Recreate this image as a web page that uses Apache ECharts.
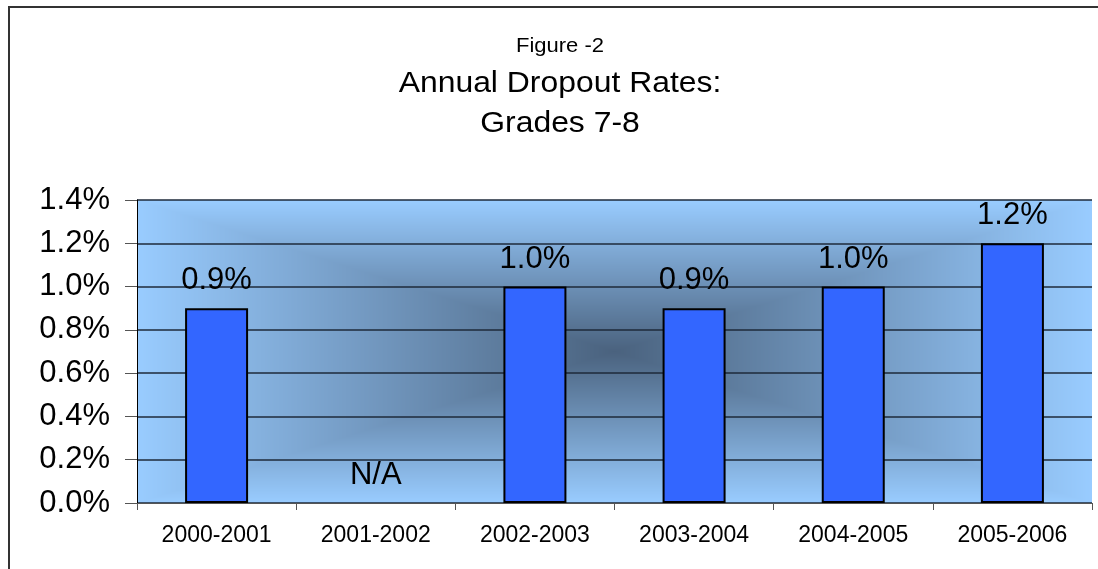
<!DOCTYPE html>
<html lang="en">
<head>
    <meta charset="UTF-8">
    <title>Annual Dropout Rates: Grades 7-8</title>
    <script src="https://cdn.jsdelivr.net/npm/echarts@6/dist/echarts.min.js"></script>
    <style>
        html, body { margin: 0; padding: 0; background: #fff; }
        #chart { width: 1098px; height: 569px; }
    </style>
</head>
<body>
<div id="chart"></div>
<script>
// data
const years = ['2000-2001', '2001-2002', '2002-2003', '2003-2004', '2004-2005', '2005-2006'];
const rates = [0.9, null, 1.0, 0.9, 1.0, 1.2];   // percent, null = not available
const yTicks = [0, 0.2, 0.4, 0.6, 0.8, 1.0, 1.2, 1.4];

// plot box in pixels
const plot = { left: 137, top: 200, right: 1092, bottom: 503 };
const W = 1098, H = 569;
const plotW = plot.right - plot.left;
const plotH = plot.bottom - plot.top;

const font = '"Liberation Sans", Arial, sans-serif';

// rectangular "from center" gradient, dark in the middle, light blue at the edges
function makeBackdrop(w, h) {
    const c = document.createElement('canvas');
    c.width = w; c.height = h;
    const ctx = c.getContext('2d');
    const img = ctx.createImageData(w, h);
    const inner = [74, 98, 126];
    const outer = [153, 204, 255];
    for (let y = 0; y < h; y++) {
        for (let x = 0; x < w; x++) {
            const dx = Math.abs(x + 0.5 - w / 2) / (w / 2);
            const dy = Math.abs(y + 0.5 - h / 2) / (h / 2);
            const t = Math.max(dx, dy);
            const i = (y * w + x) * 4;
            img.data[i] = inner[0] + (outer[0] - inner[0]) * t;
            img.data[i + 1] = inner[1] + (outer[1] - inner[1]) * t;
            img.data[i + 2] = inner[2] + (outer[2] - inner[2]) * t;
            img.data[i + 3] = 255;
        }
    }
    ctx.putImageData(img, 0, 0);
    return c;
}

const barData = rates.map(v => {
    if (v === null) {
        return {
            value: 0,
            itemStyle: { borderWidth: 0, color: 'transparent' },
            label: { formatter: 'N/A' }
        };
    }
    return v;
});

function titleText(text, y, size) {
    return {
        type: 'text', x: 560, y: y, scaleX: 1.1, silent: true,
        style: { text: text, font: size + 'px ' + font, fill: '#000', align: 'center', verticalAlign: 'middle' }
    };
}

const chart = echarts.init(document.getElementById('chart'), null, { renderer: 'canvas' });

chart.setOption({
    animation: false,
    backgroundColor: '#fff',
    graphic: [
        {
            type: 'rect', z: -20, silent: true,
            shape: { x: 9, y: 7, width: W + 40, height: H + 40 },
            style: { fill: 'none', stroke: '#333', lineWidth: 2 }
        },
        {
            type: 'image', z: -10, silent: true,
            x: plot.left, y: plot.top,
            style: { image: makeBackdrop(plotW, plotH), width: plotW, height: plotH }
        },
        titleText('Figure -2', 46, 20),
        titleText('Annual Dropout Rates:', 84, 29),
        titleText('Grades 7-8', 124, 29)
    ],
    grid: {
        left: plot.left,
        top: plot.top,
        right: W - plot.right,
        bottom: H - plot.bottom,
        containLabel: false
    },
    xAxis: {
        type: 'category',
        data: years,
        axisLine: { lineStyle: { color: '#555', width: 1 } },
        axisTick: { show: true, length: 7, lineStyle: { color: '#555' } },
        axisLabel: { fontFamily: font, fontSize: 23, color: '#000', margin: 21 }
    },
    yAxis: {
        type: 'value',
        min: yTicks[0],
        max: yTicks[yTicks.length - 1],
        interval: 0.2,
        axisLine: { show: true, lineStyle: { color: '#000', width: 1 } },
        axisTick: { show: true, length: 12, lineStyle: { color: '#555' } },
        axisLabel: {
            fontFamily: font, fontSize: 31, color: '#000', margin: 27,
            formatter: v => v.toFixed(1) + '%'
        },
        splitLine: { show: true, lineStyle: { color: '#1e2a3a', width: 1.5 } }
    },
    series: [{
        type: 'bar',
        data: barData,
        barWidth: 63,
        itemStyle: { color: '#3366ff', borderColor: '#000', borderWidth: 2 },
        label: {
            show: true,
            position: 'top',
            distance: 12,
            fontFamily: font,
            fontSize: 31,
            color: '#000',
            formatter: p => p.value.toFixed(1) + '%'
        }
    }]
});
</script>
</body>
</html>
